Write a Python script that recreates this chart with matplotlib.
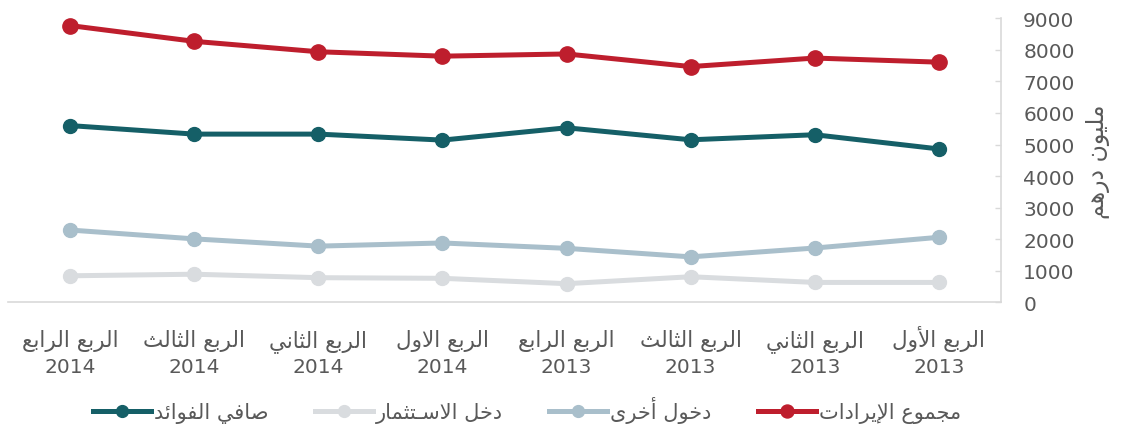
import matplotlib
matplotlib.use("Agg")
import matplotlib.pyplot as plt
from matplotlib.transforms import offset_copy

# Arabic letters -> (isolated, final, initial, medial); None = no left join
FORMS = {
    'ا': ('\uFE8D', '\uFE8E', None, None),
    'أ': ('\uFE83', '\uFE84', None, None),
    'إ': ('\uFE87', '\uFE88', None, None),
    'ب': ('\uFE8F', '\uFE90', '\uFE91', '\uFE92'),
    'ت': ('\uFE95', '\uFE96', '\uFE97', '\uFE98'),
    'ث': ('\uFE99', '\uFE9A', '\uFE9B', '\uFE9C'),
    'ج': ('\uFE9D', '\uFE9E', '\uFE9F', '\uFEA0'),
    'خ': ('\uFEA5', '\uFEA6', '\uFEA7', '\uFEA8'),
    'د': ('\uFEA9', '\uFEAA', None, None),
    'ر': ('\uFEAD', '\uFEAE', None, None),
    'س': ('\uFEB1', '\uFEB2', '\uFEB3', '\uFEB4'),
    'ص': ('\uFEB9', '\uFEBA', '\uFEBB', '\uFEBC'),
    'ع': ('\uFEC9', '\uFECA', '\uFECB', '\uFECC'),
    'ف': ('\uFED1', '\uFED2', '\uFED3', '\uFED4'),
    'ل': ('\uFEDD', '\uFEDE', '\uFEDF', '\uFEE0'),
    'م': ('\uFEE1', '\uFEE2', '\uFEE3', '\uFEE4'),
    'ن': ('\uFEE5', '\uFEE6', '\uFEE7', '\uFEE8'),
    'ه': ('\uFEE9', '\uFEEA', '\uFEEB', '\uFEEC'),
    'و': ('\uFEED', '\uFEEE', None, None),
    'ى': ('\uFEEF', '\uFEF0', None, None),
    'ي': ('\uFEF1', '\uFEF2', '\uFEF3', '\uFEF4'),
    'ئ': ('\uFE89', '\uFE8A', '\uFE8B', '\uFE8C'),
    '\u0640': ('\u0640', '\u0640', '\u0640', '\u0640'),
}
LAM_ALEF = {'ا': ('\uFEFB', '\uFEFC'), 'أ': ('\uFEF7', '\uFEF8'), 'إ': ('\uFEF9', '\uFEFA')}


def shape(text):
    """ Join Arabic letters and reverse them for left-to-right drawing """
    chars = list(text)
    out = []
    i = 0
    while i < len(chars):
        c = chars[i]
        if c not in FORMS:
            out.append(c)
            i += 1
            continue
        prev = chars[i-1] if i > 0 else None
        joins_prev = prev in FORMS and FORMS[prev][2] is not None
        nxt = chars[i+1] if i + 1 < len(chars) else None
        if c == 'ل' and nxt in LAM_ALEF:
            out.append(LAM_ALEF[nxt][1 if joins_prev else 0])
            i += 2
            continue
        joins_next = FORMS[c][2] is not None and nxt in FORMS
        iso, fin, ini, med = FORMS[c]
        if joins_prev and joins_next:
            out.append(med)
        elif joins_prev:
            out.append(fin)
        elif joins_next:
            out.append(ini)
        else:
            out.append(iso)
        i += 1
    return ''.join(reversed(out))


# chronological: Q1 2013 ... Q4 2014
quarters = ['الربع الأول', 'الربع الثاني', 'الربع الثالث', 'الربع الرابع',
            'الربع الاول', 'الربع الثاني', 'الربع الثالث', 'الربع الرابع']
years = ['2013', '2013', '2013', '2013', '2014', '2014', '2014', '2014']

total_revenue = [7610, 7740, 7470, 7870, 7800, 7940, 8270, 8770]
net_interest = [4860, 5310, 5150, 5530, 5140, 5330, 5330, 5600]
other_income = [2060, 1720, 1440, 1710, 1880, 1780, 2010, 2290]
investment_income = [630, 630, 810, 590, 760, 780, 890, 840]

series_names = ['صافي الفوائد', 'دخل الاسـتثمار', 'دخول أخرى', 'مجموع الإيرادات']

text_color = '#595959'
axis_color = '#D9D9D9'

fig = plt.figure(figsize=(11.24, 4.31), dpi=100)
ax = fig.add_axes([8/1124, 1 - 303.3/431, (1001 - 8)/1124, (303.3 - 19.3)/431])

x = list(range(len(quarters)))
ax.plot(x, net_interest, color='#155F67', lw=3.6, marker='o', ms=10, label=shape(series_names[0]))
ax.plot(x, investment_income, color='#D9DCDF', lw=3.6, marker='o', ms=10, label=shape(series_names[1]))
ax.plot(x, other_income, color='#A9BFCB', lw=3.6, marker='o', ms=10, label=shape(series_names[2]))
ax.plot(x, total_revenue, color='#BE1E2D', lw=3.6, marker='o', ms=11, label=shape(series_names[3]))

ax.set_xlim(len(quarters) - 0.5, -0.5)
ax.set_ylim(0, 9000)
ax.set_yticks(range(0, 9001, 1000))
ax.set_xticks(x)
ax.set_xticklabels([])

# two-line category labels, baselines aligned
xt = ax.get_xaxis_transform()
line1 = offset_copy(xt, fig=fig, y=-31.2, units='points')
line2 = offset_copy(xt, fig=fig, y=-50.4, units='points')
for xi, q, yr in zip(x, quarters, years):
    ax.text(xi, 0, shape(q), transform=line1, ha='center', va='baseline',
            fontsize=15.5, color=text_color)
    ax.text(xi, 0, yr, transform=line2, ha='center', va='baseline',
            fontsize=14.5, color=text_color)

ax.yaxis.tick_right()
ax.yaxis.set_label_position('right')
ax.set_ylabel(shape('مليون درهم'), fontsize=17, color=text_color, rotation=90, labelpad=8)

ax.tick_params(axis='y', direction='in', length=4.5, width=1, color=axis_color,
               labelsize=14.5, labelcolor=text_color, pad=16)
ax.tick_params(axis='x', length=0)

for s in ['top', 'left']:
    ax.spines[s].set_visible(False)
for s in ['bottom', 'right']:
    ax.spines[s].set_color(axis_color)
    ax.spines[s].set_linewidth(1.2)

fig.legend(loc='center', bbox_to_anchor=(527/1124, 1 - 411/431), ncol=4, frameon=False,
           fontsize=15, labelcolor=text_color, handlelength=2.8, handletextpad=0.15,
           columnspacing=2.2, markerscale=0.85)

fig.savefig('out.png', dpi=100)
